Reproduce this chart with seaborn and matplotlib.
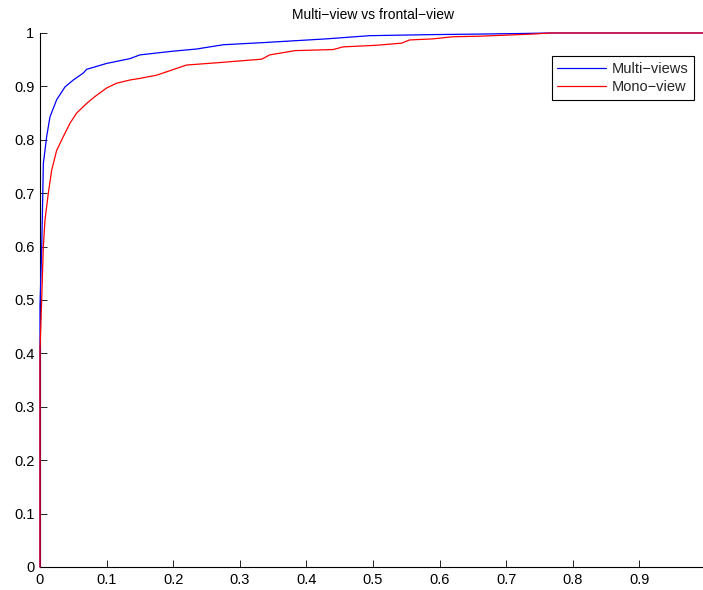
import matplotlib
matplotlib.use("Agg")
import matplotlib.pyplot as plt
import seaborn as sns
import pandas as pd

# ROC operating points (false positive rate, true positive rate)
multi_fpr = [0, 0, 0.0025, 0.004, 0.005, 0.0075, 0.01, 0.015, 0.025, 0.0375,
             0.05, 0.065, 0.07, 0.1, 0.135, 0.15, 0.2, 0.235, 0.275, 0.335,
             0.43, 0.495, 0.59, 0.66, 0.72, 0.765, 1.0]
multi_tpr = [0, 0.49, 0.594, 0.687, 0.756, 0.78, 0.806, 0.843, 0.875, 0.899,
             0.912, 0.925, 0.932, 0.943, 0.952, 0.959, 0.966, 0.97, 0.978, 0.982,
             0.989, 0.995, 0.997, 0.998, 0.999, 1.0, 1.0]

mono_fpr = [0, 0, 0.0025, 0.005, 0.0075, 0.0125, 0.0175, 0.025, 0.035, 0.045,
            0.055, 0.07, 0.0825, 0.1, 0.115, 0.135, 0.15, 0.175, 0.22, 0.263,
            0.333, 0.345, 0.383, 0.44, 0.455, 0.505, 0.543, 0.555, 0.59, 0.62,
            0.66, 0.7, 0.74, 0.765, 1.0]
mono_tpr = [0, 0.406, 0.5, 0.6, 0.65, 0.70, 0.743, 0.78, 0.806, 0.831,
            0.85, 0.868, 0.881, 0.897, 0.906, 0.912, 0.915, 0.921, 0.94, 0.944,
            0.951, 0.959, 0.967, 0.969, 0.974, 0.977, 0.981, 0.987, 0.989, 0.993,
            0.994, 0.996, 0.998, 1.0, 1.0]

series_names = ["Multi\u2212views", "Mono\u2212view"]
title_text = "Multi\u2212view vs frontal\u2212view"
x_ticks = [0, 0.1, 0.2, 0.3, 0.4, 0.5, 0.6, 0.7, 0.8, 0.9]
x_tick_labels = ["0", "0.1", "0.2", "0.3", "0.4", "0.5", "0.6", "0.7", "0.8", "0.9"]
y_ticks = [0, 0.1, 0.2, 0.3, 0.4, 0.5, 0.6, 0.7, 0.8, 0.9, 1.0]
y_tick_labels = ["0", "0.1", "0.2", "0.3", "0.4", "0.5", "0.6", "0.7", "0.8", "0.9", "1"]

df = pd.concat([
    pd.DataFrame({"fpr": multi_fpr, "tpr": multi_tpr, "method": series_names[0]}),
    pd.DataFrame({"fpr": mono_fpr, "tpr": mono_tpr, "method": series_names[1]}),
], ignore_index=True)

sns.set_style("ticks")
plt.rcParams["font.family"] = ["Liberation Sans", "DejaVu Sans"]
plt.rcParams["axes.unicode_minus"] = True

fig = plt.figure(figsize=(7.03, 5.90), dpi=100)
ax = fig.add_axes([40 / 703, 23 / 590, 666 / 703, 534 / 590])

sns.lineplot(data=df, x="fpr", y="tpr", hue="method", sort=False, estimator=None,
             palette={series_names[0]: "#0000ff", series_names[1]: "#ff0000"},
             linewidth=0.9, ax=ax)

for ln in ax.get_lines():
    ln.set_clip_on(False)
    ln.set_zorder(3)

ax.set_xlim(0, 1)
ax.set_ylim(0, 1)
ax.set_xticks(x_ticks)
ax.set_xticklabels(x_tick_labels)
ax.set_yticks(y_ticks)
ax.set_yticklabels(y_tick_labels)
ax.set_xlabel("")
ax.set_ylabel("")
ax.tick_params(direction="in", length=5, width=0.6, labelsize=10.5, colors="black", pad=4)
for side in ("top", "right"):
    ax.spines[side].set_visible(False)
for side in ("left", "bottom"):
    ax.spines[side].set_linewidth(0.8)
    ax.spines[side].set_color("black")

ax.set_title(title_text, fontsize=10, pad=10, color="black")

leg = ax.legend(loc="upper right", bbox_to_anchor=(0.982, 0.957), frameon=True,
                fancybox=False, edgecolor="black", fontsize=10.5, handlelength=3.3,
                handletextpad=0.4, borderpad=0.4, labelspacing=0.3, borderaxespad=0)
leg.get_frame().set_linewidth(0.8)
leg.get_frame().set_alpha(1)

fig.savefig("out.png", dpi=100)
